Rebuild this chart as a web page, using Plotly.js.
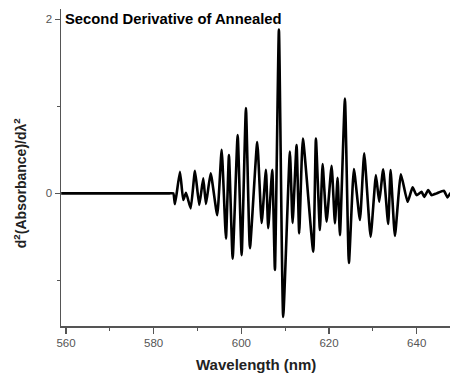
<!DOCTYPE html>
<html><head><meta charset="utf-8">
<script src="https://cdn.plot.ly/plotly-3.0.1.min.js"></script>
<style>html,body{margin:0;padding:0;background:#fff}#chart{width:453px;height:375px}</style>
</head><body><div id="chart"></div>
<script>
const wavelength = [558.9, 583.6, 584.47, 584.86, 586.0, 586.75, 587.37, 588.44, 589.42, 590.40, 591.31, 591.93, 593.0,
  594.50, 595.51, 596.49, 597.17, 598.02, 599.16, 600.07, 601.05, 601.96, 603.63, 604.63, 605.61, 606.13, 607.05,
  607.66, 608.57, 609.55, 611.08, 611.69, 612.60, 613.20, 614.04, 616.40, 617.01, 617.92, 618.54, 619.45, 620.59,
  621.35, 621.96, 622.49, 623.63, 624.54, 625.68, 627.05, 628.03, 629.49, 630.70, 631.45, 632.36, 633.50, 634.05,
  635.03, 636.40, 637.93, 639.07, 639.98, 641.12, 641.72, 642.63, 643.40, 644.54, 646.2, 647.03, 647.7];
const secondDerivative = [0, 0, 0, -0.123, 0.248, -0.077, 0.007, -0.172, 0.26, -0.134, 0.172, -0.123, 0.23,
  -0.25, 0.50, -0.52, 0.44, -0.75, 0.67, -0.71, 0.98, -0.63, 0.59, -0.34, 0.27, -0.40, 0.27,
  -0.88, 1.885, -1.42, 0.48, -0.34, 0.555, -0.46, 0.63, -0.67, 0.63, -0.42, 0.337, -0.326, 0.317,
  -0.345, 0.18, -0.48, 1.09, -0.80, 0.28, -0.307, 0.46, -0.50, 0.21, -0.097, 0.276, -0.353, 0.268,
  -0.49, 0.22, -0.097, 0.069, -0.02, 0.018, -0.04, 0.038, -0.02, 0, 0.03, -0.046, 0.007];
const xTickVals = [560, 580, 600, 620, 640];
const yTickVals = [0, 2];
const chartTitle = 'Second Derivative of Annealed';
const xTitle = 'Wavelength (nm)';
const yTitle = 'd<sup>2</sup>(Absorbance)/dλ<sup>2</sup>';

const axisColor = '#555';
const font = 'Arial, "Liberation Sans", sans-serif';

Plotly.newPlot('chart', [{
  x: wavelength, y: secondDerivative, type: 'scatter', mode: 'lines',
  line: {color: '#000', width: 2.6, shape: 'spline', smoothing: 0.45},
  hoverinfo: 'skip'
}], {
  width: 453, height: 375,
  margin: {l: 61, r: 3, t: 9, b: 49},
  paper_bgcolor: '#fff', plot_bgcolor: '#fff',
  showlegend: false,
  xaxis: {
    range: [558.86, 647.6], tickmode: 'array', tickvals: xTickVals,
    ticks: 'outside', ticklen: 6, tickwidth: 1.2, tickcolor: axisColor,
    minor: {tickmode: 'linear', tick0: 570, dtick: 10, ticks: 'outside', ticklen: 3, tickcolor: axisColor, tickwidth: 1.2},
    showline: true, linecolor: axisColor, linewidth: 1.5, showgrid: false, zeroline: false,
    tickfont: {family: font, size: 11.5, color: '#555'}
  },
  yaxis: {
    range: [-1.525, 2.12], tickmode: 'array', tickvals: yTickVals,
    ticks: 'outside', ticklen: 5, tickwidth: 1.2, tickcolor: axisColor,
    minor: {tickmode: 'linear', tick0: 1, dtick: 2, ticks: 'outside', ticklen: 3, tickcolor: axisColor, tickwidth: 1.2},
    showline: true, linecolor: axisColor, linewidth: 1.5, showgrid: false, zeroline: false,
    tickfont: {family: font, size: 11.5, color: '#555'}
  },
  annotations: [
    {text: '<b>' + chartTitle + '</b>', xref: 'paper', yref: 'paper', x: 0.006, y: 0.97,
     xanchor: 'left', yanchor: 'middle', showarrow: false, font: {family: font, size: 14.8, color: '#000'}},
    {text: '<b>' + xTitle + '</b>', xref: 'paper', yref: 'paper', x: 0.501, y: -0.12,
     xanchor: 'center', yanchor: 'middle', showarrow: false, font: {family: font, size: 15, color: '#222'}},
    {text: '<b>' + yTitle + '</b>', xref: 'paper', yref: 'paper', x: -0.105, y: 0.451,
     xanchor: 'center', yanchor: 'middle', textangle: -90, showarrow: false, font: {family: font, size: 14, color: '#222'}}
  ]
}, {staticPlot: true});
</script></body></html>
